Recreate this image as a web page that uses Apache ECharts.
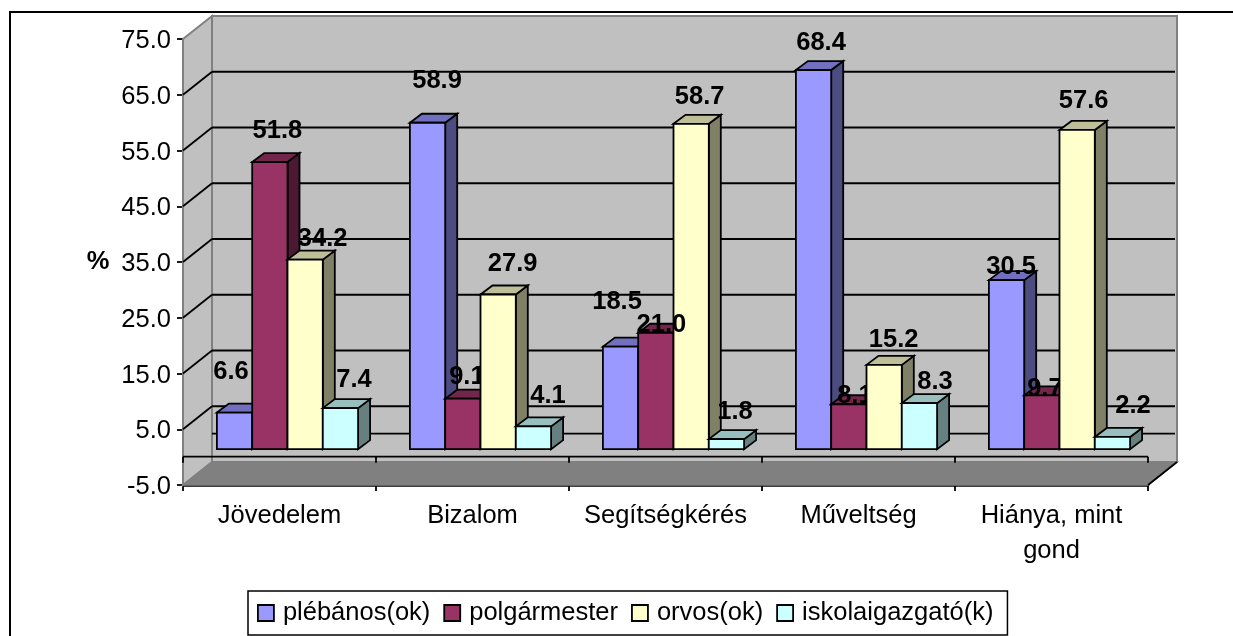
<!DOCTYPE html>
<html><head><meta charset="utf-8">
<style>html,body{margin:0;padding:0;background:#fff}#c{width:1233px;height:636px}</style>
<script src="https://cdn.jsdelivr.net/npm/echarts@6/dist/echarts.min.js"></script>
</head><body><div id="c"></div>
<script>
var categories = ['Jövedelem','Bizalom','Segítségkérés','Műveltség','Hiánya, mint\ngond'];
var seriesNames = ['plébános(ok)','polgármester','orvos(ok)','iskolaigazgató(k)'];
var plebanos = [6.6,58.9,18.5,68.4,30.5];
var polgarmester = [51.8,9.1,21.0,8.1,9.7];
var orvos = [34.2,27.9,58.7,15.2,57.6];
var iskola = [7.4,4.1,1.8,8.3,2.2];
var yTicks = {min:-5,max:75,interval:10};

var frontColors = ['#9999FF','#993366','#FFFFCC','#CCFFFF'];
var topColors = ['#7070BE','#72264C','#BEBE98','#98BEBE'];
var sideColors = ['#4C4C80','#4C1933','#808066','#668080'];
var seriesValues = [plebanos,polgarmester,orvos,iskola];
// label placement relative to each bar (dx, lift)
var labelDx = [[-4,9,-4,7,4],[7,3.5,5,5.5,2.5],[17,14,8,9,6],[13,14,8,15,20]];
var labelLift = [[42,43,46,28,14],[32,23,9,9,7],[22,32,28,26,30],[29,31,28,22,32]];
var labelsAbove = {'1_2':true};

var F='"Liberation Sans",Arial,sans-serif';
var DX=29,DY=23, BDX=8, BDY=8, DEPX=12, DEPY=9, BARW=35.3, BAR_SCALE=0.994, FS=25.5;
var BLACK='#000', GREY='#808080';

function line(x1,y1,x2,y2,c,w){return {type:'line',shape:{x1:x1,y1:y1,x2:x2,y2:y2},style:{stroke:c,lineWidth:w||1.8}};}
function poly(pts,fill,stroke,w){return {type:'polygon',shape:{points:pts},style:{fill:fill,stroke:stroke||null,lineWidth:w||1.8,lineJoin:'miter'}};}

function renderWalls(params,api){
  var cs=params.coordSys, L=cs.x, R=cs.x+cs.width, B=cs.y+cs.height, T=cs.y;
  var ch=[];
  ch.push(poly([[L+DX,T-DY],[R+DX,T-DY],[R+DX,B-DY],[L+DX,B-DY]],'#C0C0C0',GREY,2));
  ch.push(poly([[L,T],[L+DX,T-DY],[L+DX,B-DY],[L,B]],'#C0C0C0',GREY,2));
  ch.push(poly([[L,B],[L+DX,B-DY],[R+DX,B-DY],[R,B]],'#808080',GREY,1.5));
  for(var v=yTicks.min+yTicks.interval;v<yTicks.max;v+=yTicks.interval){
    var y=api.coord([0,v])[1];
    ch.push(line(L,y,L+DX,y-DY,BLACK,1.8));
    ch.push(line(L+DX,y-DY,R+DX-2,y-DY,BLACK,1.8));
  }
  var y0=api.coord([0,0])[1]-0.5;
  ch.push(line(L+DX,y0-DY,R+DX-2,y0-DY,BLACK,1.8));
  ch.push(line(L,y0,R,y0,BLACK,1.8));
  for(var i=0;i<=categories.length;i++){
    var x=L+cs.width*i/categories.length;
    ch.push(line(x,y0,x,y0+6,BLACK,1.8));
  }
  ch.push(line(R,B,R+DX,B-DY,BLACK,1.8));
  return {type:'group',children:ch};
}

function barGeom(k,i,v,api){
  var c=api.coord([i,v]), c0=api.coord([i,0]);
  var yb=c0[1]-BDY;
  return {x:c[0]+BDX+(k-2)*BARW, y:yb-(c0[1]-c[1])*BAR_SCALE, yb:yb};
}
function renderBar(k){
  return function(params,api){
    var i=api.value(0), v=api.value(1);
    var g=barGeom(k,i,v,api), x=g.x, y=g.y, yb=g.yb, xr=x+BARW;
    var ch=[
      poly([[xr,y],[xr+DEPX,y-DEPY],[xr+DEPX,yb-DEPY],[xr,yb]],sideColors[k],BLACK),
      poly([[x,y],[x+DEPX,y-DEPY],[xr+DEPX,y-DEPY],[xr,y]],topColors[k],BLACK),
      poly([[x,y],[xr,y],[xr,yb],[x,yb]],frontColors[k],BLACK)
    ];
    if(!labelsAbove[k+'_'+i]) ch.push(label(k,i,v,x,y));
    return {type:'group',children:ch};
  };
}
function label(k,i,v,x,y){
  return {type:'text',style:{text:v.toFixed(1),x:x+0.5+BARW/2+labelDx[k][i],y:y+1-labelLift[k][i],
    font:'bold '+FS+'px '+F,fill:'#000',textAlign:'center',textVerticalAlign:'middle'}};
}
function renderTopLabels(params,api){
  var i=api.value(0),k=api.value(1),v=seriesValues[k][i];
  var g=barGeom(k,i,v,api);
  return label(k,i,v,g.x,g.y);
}

var series=[{type:'custom',silent:true,renderItem:renderWalls,data:[[0,0]],z:1,clip:false,encode:{x:0,y:1}}];
seriesNames.forEach(function(n,k){
  series.push({name:n,type:'custom',renderItem:renderBar(k),clip:false,z:2+k,
    itemStyle:{color:frontColors[k]},
    data:seriesValues[k].map(function(v,i){return [i,v];}),encode:{x:0,y:1}});
});
series.push({type:'custom',silent:true,renderItem:renderTopLabels,clip:false,z:9,
  data:Object.keys(labelsAbove).map(function(s){var p=s.split('_');return [+p[1],+p[0]];}),encode:{x:0}});

var chart=echarts.init(document.getElementById('c'),null,{renderer:'canvas'});
chart.setOption({
  animation:false,backgroundColor:'#fff',
  grid:{left:183,top:39,width:965,height:446,containLabel:false},
  graphic:[
    {type:'rect',z:-1,shape:{x:10,y:12,width:1300,height:700},style:{fill:'#fff',stroke:'#000',lineWidth:2}},
    {type:'text',z:10,style:{text:'%',x:98,y:262,font:'bold '+FS+'px '+F,fill:'#000',textAlign:'center',textVerticalAlign:'middle'}}
  ],
  legend:{left:248,top:591,orient:'horizontal',padding:[9,14,9,9],itemGap:13,itemWidth:16,itemHeight:16,
    icon:'rect',borderColor:'#000',borderWidth:1.5,
    textStyle:{fontFamily:F,fontSize:FS,color:'#000',padding:[0,0,0,4]},
    itemStyle:{borderColor:'#000',borderWidth:1.8},
    data:seriesNames},
  xAxis:{type:'category',data:categories,position:'bottom',
    axisLine:{onZero:false,lineStyle:{color:'#000',width:2.5}},
    axisTick:{show:true,length:6,lineStyle:{color:'#000',width:1.8}},
    axisLabel:{fontFamily:F,fontSize:FS,color:'#000',margin:13,lineHeight:35,interval:0},
    splitLine:{show:false}},
  yAxis:{type:'value',min:yTicks.min,max:yTicks.max,interval:yTicks.interval,
    axisLine:{show:true,lineStyle:{color:'#000',width:1.8}},
    axisTick:{show:true,length:6,lineStyle:{color:'#000',width:1.8}},
    axisLabel:{fontFamily:F,fontSize:FS,color:'#000',margin:12,verticalAlign:'top',lineHeight:4,formatter:function(v){return v.toFixed(1);}},
    splitLine:{show:false}},
  series:series
});
</script></body></html>
